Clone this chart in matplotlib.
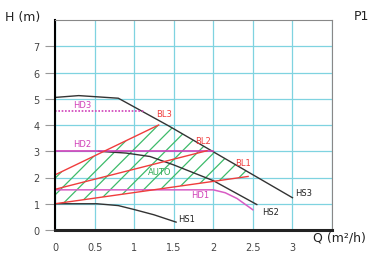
import numpy as np
import matplotlib
matplotlib.use("Agg")
import matplotlib.pyplot as plt

# pump curves (Q in m3/h, H in m)
hs3_q = [0, 0.3, 0.8, 1.44, 2.0, 3.0]
hs3_h = [5.05, 5.12, 5.02, 3.96, 2.98, 1.23]
hs2_q = [0.55, 0.9, 1.2, 1.5, 2.0, 2.55]
hs2_h = [3.0, 2.93, 2.8, 2.48, 1.88, 0.97]
hs1_q = [0, 0.53, 0.8, 1.0, 1.25, 1.53]
hs1_h = [1.0, 1.0, 0.93, 0.78, 0.58, 0.3]

hd3_q = [0, 1.12]
hd3_h = [4.52, 4.52]
hd2_q = [0, 2.0]
hd2_h = [3.0, 3.0]
hd1_q = [0, 2.0, 2.15, 2.3, 2.5]
hd1_h = [1.53, 1.53, 1.42, 1.2, 0.77]

bl3_q = [0, 1.31]
bl3_h = [2.1, 4.0]
bl2_q = [0, 1.92]
bl2_h = [1.55, 3.02]
bl1_q = [0, 2.44]
bl1_h = [1.0, 2.04]

x_ticks = [0, 0.5, 1, 1.5, 2, 2.5, 3]
x_labels = ["0", "0.5", "1", "1.5", "2", "2.5", "3"]
y_ticks = [0, 1, 2, 3, 4, 5, 6, 7]

curve_labels = [
    ("HD3", 0.34, 4.78, "#d040b8"),
    ("HD2", 0.34, 3.3, "#d040b8"),
    ("HD1", 1.83, 1.35, "#d040b8"),
    ("BL3", 1.38, 4.42, "#f03c3c"),
    ("BL2", 1.87, 3.4, "#f03c3c"),
    ("BL1", 2.37, 2.58, "#f03c3c"),
    ("AUTO", 1.32, 2.24, "#2eaa55"),
    ("HS1", 1.66, 0.42, "#222222"),
    ("HS2", 2.72, 0.69, "#222222"),
    ("HS3", 3.14, 1.42, "#222222"),
]

fig = plt.figure(figsize=(3.68, 2.55), dpi=100)
ax = fig.add_axes([55 / 368, 1 - 231 / 255, 277 / 368, 210 / 255])
ax.set_xlim(0, 3.5)
ax.set_ylim(0, 8)

ax.set_xticks(np.arange(0, 3.51, 0.5), minor=True)
ax.set_xticks(x_ticks)
ax.set_xticklabels(x_labels)
ax.set_yticks(y_ticks)
ax.grid(True, which="both", color="#7fd3e0", linewidth=0.9)
ax.set_axisbelow(True)

ax.tick_params(axis="y", length=7, color="#999999", labelsize=7, labelcolor="#444444", pad=4)
ax.tick_params(axis="x", which="both", length=0, labelsize=7, labelcolor="#444444", pad=9)
ax.spines["left"].set_linewidth(1.5)
ax.spines["bottom"].set_linewidth(2.2)
ax.spines["bottom"].set_color("#222222")
ax.spines["top"].set_color("#888888")
ax.spines["right"].set_color("#888888")

# hatched AUTO area
plt.rcParams["hatch.linewidth"] = 0.9
q = np.linspace(0, 2.45, 200)
lower = np.interp(q, bl1_q, bl1_h)
upper = np.minimum(np.interp(q, bl3_q, bl3_h), np.interp(q, hs3_q, hs3_h))
ax.fill_between(q, lower, upper, where=upper > lower, facecolor="none",
                edgecolor="#3dbb6a", hatch="//", linewidth=0)

ax.plot(hs3_q, hs3_h, color="#333333", linewidth=1.0)
ax.plot(hs2_q, hs2_h, color="#333333", linewidth=1.0)
ax.plot(hs1_q, hs1_h, color="#333333", linewidth=1.0)
ax.plot(hd3_q, hd3_h, color="#d040b8", linewidth=1.2, linestyle=(0, (1, 1)))
ax.plot(hd2_q, hd2_h, color="#d040b8", linewidth=1.2)
ax.plot(hd1_q, hd1_h, color="#d85cc4", linewidth=1.1)
ax.plot(bl3_q, bl3_h, color="#f03c3c", linewidth=1.0)
ax.plot(bl2_q, bl2_h, color="#f03c3c", linewidth=1.0)
ax.plot(bl1_q, bl1_h, color="#f03c3c", linewidth=1.0)

for name, x, y, c in curve_labels:
    ax.text(x, y, name, color=c, fontsize=6, ha="center", va="center")

fig.text(5 / 368, 1 - 17 / 255, "H (m)", fontsize=9, color="#222222", va="center")
fig.text(354 / 368, 1 - 17 / 255, "P1", fontsize=9, color="#222222", va="center")
fig.text(313 / 368, 1 - 238 / 255, "Q (m²/h)", fontsize=9, color="#222222", va="center")

fig.savefig("out.png", dpi=100)
